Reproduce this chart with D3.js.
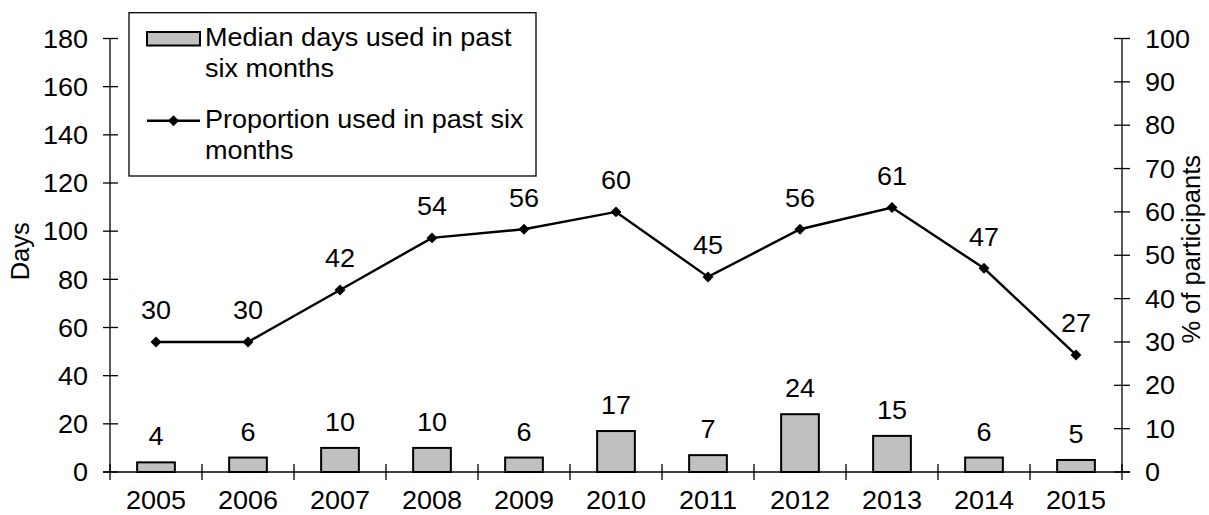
<!DOCTYPE html>
<html>
<head>
<meta charset="utf-8">
<script src="https://cdn.jsdelivr.net/npm/d3@7"></script>
<style>
  html, body { margin: 0; padding: 0; background: #fff; }
  svg { display: block; font-family: "Liberation Sans", Arial, sans-serif; }
</style>
</head>
<body>
<svg id="chart" width="1209" height="515"></svg>
<script>
const years = ["2005","2006","2007","2008","2009","2010","2011","2012","2013","2014","2015"];
const medianDays = [4, 6, 10, 10, 6, 17, 7, 24, 15, 6, 5];
const proportion = [30, 30, 42, 54, 56, 60, 45, 56, 61, 47, 27];
const leftTicks = [0, 20, 40, 60, 80, 100, 120, 140, 160, 180];
const rightTicks = [0, 10, 20, 30, 40, 50, 60, 70, 80, 90, 100];
const barLegend = ["Median days used in past", "six months"];
const lineLegend = ["Proportion used in past six", "months"];

const svg = d3.select("#chart");
const pL = 110, pR = 1122, pT = 38.5, pB = 472;
const fs = 25.5;
const sx = 1.06;

function txt(g, xx, yy, s, anchor, dy) {
  return g.append("text")
    .attr("transform", `translate(${xx},${yy}) scale(${sx},1)`)
    .attr("text-anchor", anchor || "start")
    .attr("dy", dy || 0)
    .attr("font-size", fs)
    .text(s);
}

const x = d3.scaleBand().domain(years).range([pL, pR]).paddingInner(0).paddingOuter(0);
const yL = d3.scaleLinear().domain([0, 180]).range([pB, pT]);
const yR = d3.scaleLinear().domain([0, 100]).range([pB, pT]);
const cx = d => x(d) + x.bandwidth() / 2;

// Left axis
const gL = svg.append("g");
gL.append("line").attr("x1", pL).attr("x2", pL).attr("y1", pT).attr("y2", pB).attr("stroke", "#000").attr("stroke-width", 1.3);
leftTicks.forEach(t => {
  gL.append("line").attr("x1", pL - 7).attr("x2", pL + 8).attr("y1", yL(t)).attr("y2", yL(t)).attr("stroke", "#000").attr("stroke-width", 1.3);
  txt(gL, 88, yL(t), t, "end", "0.36em");
});

// Right axis
const gR = svg.append("g");
gR.append("line").attr("x1", pR).attr("x2", pR).attr("y1", pT).attr("y2", pB).attr("stroke", "#000").attr("stroke-width", 1.3);
rightTicks.forEach(t => {
  gR.append("line").attr("x1", pR - 8).attr("x2", pR + 8).attr("y1", yR(t)).attr("y2", yR(t)).attr("stroke", "#000").attr("stroke-width", 1.3);
  txt(gR, 1145, yR(t), t, "start", "0.36em");
});

// X axis
const gX = svg.append("g");
gX.append("line").attr("x1", pL - 7).attr("x2", pR + 8).attr("y1", pB).attr("y2", pB).attr("stroke", "#000").attr("stroke-width", 1.3);
const bounds = years.map(y => x(y)).concat([pR]);
bounds.forEach(b => {
  gX.append("line").attr("x1", b).attr("x2", b).attr("y1", pB - 8).attr("y2", pB + 8).attr("stroke", "#000").attr("stroke-width", 1.3);
});
years.forEach(yv => txt(gX, cx(yv), 509, yv, "middle"));

// Axis titles
svg.append("text").attr("transform", `translate(29, ${(pT + pB) / 2 - 4}) rotate(-90)`)
  .attr("text-anchor", "middle").attr("font-size", fs).text("Days");
svg.append("text").attr("transform", `translate(1200, ${(pT + pB) / 2 - 6}) rotate(-90)`)
  .attr("text-anchor", "middle").attr("font-size", fs).text("% of participants");

// Bars
const bw = x.bandwidth() * 0.41;
svg.append("g").selectAll("rect").data(years).join("rect")
  .attr("x", d => cx(d) - bw / 2)
  .attr("y", (d, i) => yL(medianDays[i]))
  .attr("width", bw)
  .attr("height", (d, i) => pB - yL(medianDays[i]))
  .attr("fill", "#c0c0c0").attr("stroke", "#000").attr("stroke-width", 2);

const gBL = svg.append("g");
years.forEach((d, i) => txt(gBL, cx(d), yL(medianDays[i]) - 17, medianDays[i], "middle"));

// Line
const line = d3.line().x((d, i) => cx(years[i])).y(d => yR(d));
svg.append("path").datum(proportion).attr("d", line).attr("fill", "none").attr("stroke", "#000").attr("stroke-width", 2.4);
const diamond = d3.symbol().type(d3.symbolDiamond2).size(76);
svg.append("g").selectAll("path").data(proportion).join("path")
  .attr("d", diamond)
  .attr("transform", (d, i) => `translate(${cx(years[i])}, ${yR(d)})`)
  .attr("fill", "#000");
const gPL = svg.append("g");
proportion.forEach((d, i) => txt(gPL, cx(years[i]), yR(d) - 22.5, d, "middle"));

// Legend
const lg = svg.append("g");
lg.append("rect").attr("x", 129).attr("y", 12.7).attr("width", 407).attr("height", 163.3)
  .attr("fill", "#fff").attr("stroke", "#000").attr("stroke-width", 1.3);
lg.append("rect").attr("x", 147).attr("y", 32).attr("width", 53).attr("height", 13.5)
  .attr("fill", "#c0c0c0").attr("stroke", "#000").attr("stroke-width", 2);
barLegend.forEach((t, i) => txt(lg, 205, 46 + i * 31, t, "start"));
lg.append("line").attr("x1", 147).attr("x2", 200).attr("y1", 120.7).attr("y2", 120.7).attr("stroke", "#000").attr("stroke-width", 2.4);
lg.append("path").attr("d", diamond).attr("transform", "translate(173.5,120.7)").attr("fill", "#000");
lineLegend.forEach((t, i) => txt(lg, 205, 128 + i * 31, t, "start"));
</script>
</body>
</html>
